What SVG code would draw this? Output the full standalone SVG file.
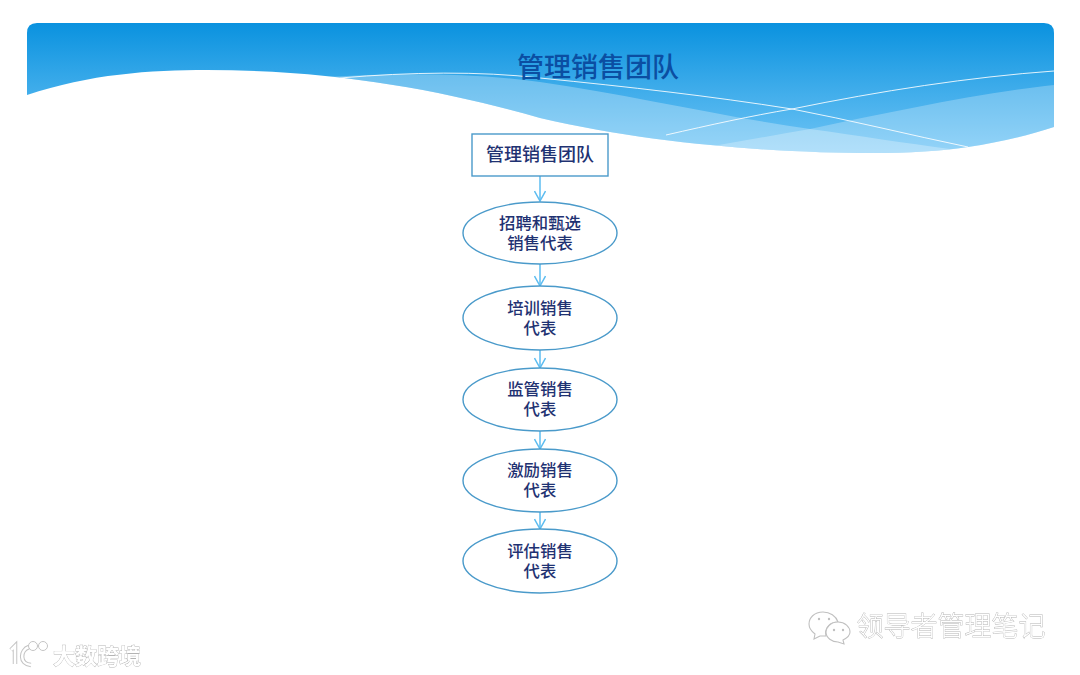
<svg xmlns="http://www.w3.org/2000/svg" width="1080" height="675" viewBox="0 0 1080 675">
<style>
text{font-family:"Noto Sans CJK SC","Noto Sans",sans-serif;text-anchor:middle}
.n{fill:#fff;stroke:#4a9aca;stroke-width:1.4}
.t{fill:#1f3272;font-size:16.4px;font-weight:500}
.c{fill:none;stroke:#5cbcf0;stroke-width:1.5}
.wm{fill:#fff;stroke:#b4b4b4;stroke-width:.8;paint-order:stroke;filter:url(#soft)}
.lg{fill:#fff;stroke:#c0c0c0;stroke-width:1.1;filter:url(#soft)}
</style>
<defs>
<linearGradient id="g" gradientUnits="userSpaceOnUse" x1="0" y1="23" x2="0" y2="155">
<stop offset="0" stop-color="#0a92df"/><stop offset="1" stop-color="#72c6f6"/>
</linearGradient>
<filter id="soft" x="-10%" y="-30%" width="120%" height="160%"><feGaussianBlur stdDeviation=".4"/></filter>
<marker id="a" markerWidth="14" markerHeight="12" refX="11" refY="6" orient="auto" markerUnits="userSpaceOnUse"><path d="M1 .5L11 6L1 11.5" fill="none" stroke="#5cbcf0" stroke-width="1.5"/></marker>
<clipPath id="w"><path d="M27 95C90 74 150 70 207 70C340 70 450 92 540 118C660 146 790 153 871 153C910 153 940 151 968 147C1000 142 1030 135 1054 127V33Q1054 23 1044 23H37Q27 23 27 33Z"/></clipPath>
</defs>
<rect width="1080" height="675" fill="#fff"/>
<g id="banner">
<path d="M27 95C90 74 150 70 207 70C340 70 450 92 540 118C660 146 790 153 871 153C910 153 940 151 968 147C1000 142 1030 135 1054 127V33Q1054 23 1044 23H37Q27 23 27 33Z" fill="url(#g)"/>
<g clip-path="url(#w)">
<path d="M325 77C390 73 470 72 540 82C630 95 730 118 810 129C860 136 905 143 950 149L900 175H300Z" fill="#fff" opacity=".28"/>
<path d="M680 152C720 145 770 136 810 129C890 112 980 93 1054 85V170H680Z" fill="#fff" opacity=".25"/>
<path d="M340 78C410 72 480 71 540 78C630 87 710 96 792 109C850 120 910 135 968 147" fill="none" stroke="#fff" stroke-width="1" opacity=".85"/>
<path d="M666 135C710 125 750 116 792 109C880 91 970 77 1054 71" fill="none" stroke="#fff" stroke-width="1" opacity=".85"/>
</g>
<text x="598" y="77" fill="#0b4ea2" style="font-size:27px;font-weight:500">管理销售团队</text>
</g>
<g id="connectors">
<path class="c" d="M540 176V201" marker-end="url(#a)"/>
<path class="c" d="M540 264V286" marker-end="url(#a)"/>
<path class="c" d="M540 350V368" marker-end="url(#a)"/>
<path class="c" d="M540 431V449" marker-end="url(#a)"/>
<path class="c" d="M540 512V529" marker-end="url(#a)"/>
</g>
<g id="n0"><rect class="n" x="472" y="134" width="136" height="42"/><text class="t" x="540" y="161" style="font-size:18px">管理销售团队</text></g>
<g id="n1"><ellipse class="n" cx="540" cy="233" rx="77" ry="31"/><text class="t" x="540" y="229">招聘和甄选</text><text class="t" x="540" y="249">销售代表</text></g>
<g id="n2"><ellipse class="n" cx="540" cy="318" rx="77" ry="32"/><text class="t" x="540" y="314">培训销售</text><text class="t" x="540" y="334">代表</text></g>
<g id="n3"><ellipse class="n" cx="540" cy="399.500" rx="77" ry="31.500"/><text class="t" x="540" y="395">监管销售</text><text class="t" x="540" y="415">代表</text></g>
<g id="n4"><ellipse class="n" cx="540" cy="480.500" rx="77" ry="31.500"/><text class="t" x="540" y="476">激励销售</text><text class="t" x="540" y="496">代表</text></g>
<g id="n5"><ellipse class="n" cx="540" cy="561" rx="77" ry="32"/><text class="t" x="540" y="557">评估销售</text><text class="t" x="540" y="577">代表</text></g>
<g id="watermarks">
<text class="wm" x="951" y="636" style="font-size:27px;font-weight:300">领导者管理笔记</text>
<text class="wm" x="97" y="664" style="font-size:22px;font-weight:700">大数跨境</text>
<path class="lg" d="M823 612C814 612 809 618 809 624C809 628 811 631 815 634L814 639L820 636L826 636C824 628 830 622 838 622C836 616 830 612 823 612Z"/>
<path class="lg" d="M838 622C830 622 826 628 826 632C826 638 832 642 838 642L844 644L843 640C847 638 850 635 850 632C850 627 845 622 838 622Z"/>
<g fill="#c0c0c0"><circle cx="819" cy="619" r="1.200"/><circle cx="829" cy="619" r="1.200"/><circle cx="834" cy="630" r="1.200"/><circle cx="843" cy="630" r="1.200"/></g>
<g fill="none" stroke="#fff" filter="url(#soft)">
<path d="M11 650L15 646V664M29 647C20 650 19 664 31 665" stroke="#c4c4c4" stroke-width="4.500"/>
<path d="M11 650L15 646V664M29 647C20 650 19 664 31 665" stroke-width="2.500"/>
<circle cx="33" cy="646" r="4.500" stroke="#c4c4c4" stroke-width="1"/>
<circle cx="43" cy="646" r="4.500" stroke="#c4c4c4" stroke-width="1"/>
</g>
</g>
</svg>
